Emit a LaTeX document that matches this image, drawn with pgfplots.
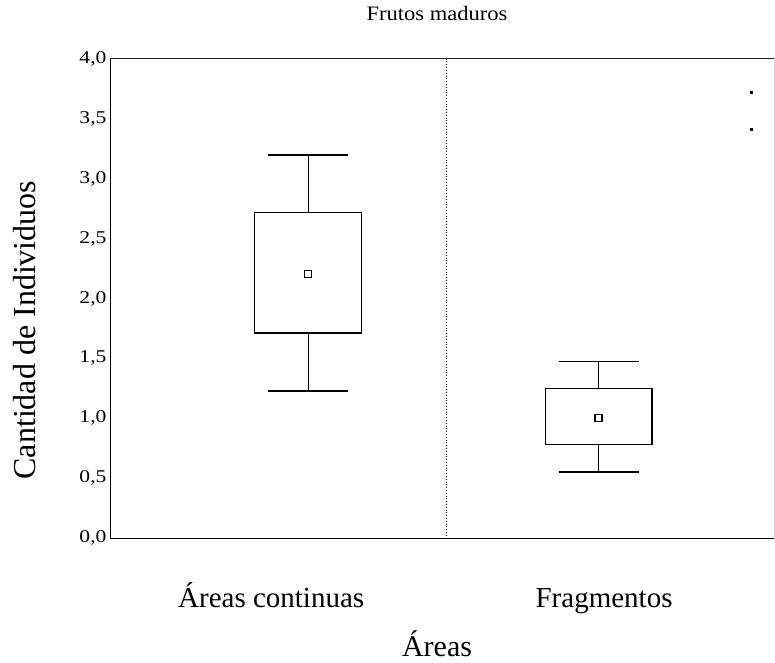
\documentclass[border=0pt]{standalone}
\usepackage{fontspec}
\setmainfont{Liberation Serif}
\usepackage{pgfplots}
\pgfplotsset{compat=1.18}
\usepgfplotslibrary{statistics}
\begin{document}
\begin{tikzpicture}
\path[use as bounding box] (0,0) rectangle (775pt,662pt);
\begin{axis}[
  at={(110pt,123.7pt)}, anchor=south west,
  scale only axis, width=664pt, height=479.8pt,
  xmin=-0.682, xmax=1.604, ymin=0, ymax=4,
  axis x line=bottom, axis y line=left,
  axis line style={-, black, line width=1pt},
  major tick length=0pt,
  xtick={-0.127,1.019},
  xticklabels={Áreas continuas, Fragmentos},
  xticklabel style={anchor=base, yshift=-69.4pt, font=\fontsize{29}{33}\selectfont},
  ytick={0,0.5,1,1.5,2,2.5,3,3.5,4},
  yticklabel={\scalebox{1.2}[1]{\pgfmathprintnumber{\tick}}},
  yticklabel style={font=\fontsize{18}{21}\selectfont},
  /pgf/number format/.cd, fixed, fixed zerofill, precision=1, use comma, assume math mode=true,
  /pgfplots/.cd,
  title={\scalebox{1.1}[1]{Frutos maduros}},
  title style={at={(axis description cs:0.4925,1.0677)}, anchor=base, font=\fontsize{20.5}{24}\selectfont},
  xlabel={Áreas},
  xlabel style={at={(axis description cs:0.4925,-0.2468)}, anchor=base, font=\fontsize{30}{34}\selectfont},
  ylabel={Cantidad de Individuos},
  ylabel style={at={(axis description cs:-0.128,0.434)}, anchor=center, rotate=0, font=\fontsize{32}{36}\selectfont},
  clip=false,
]
\draw[black!85, line width=1.4pt] (rel axis cs:0,1) -- (rel axis cs:1,1);
\draw[gray!35, line width=0.7pt] (rel axis cs:1,0) -- (rel axis cs:1,1);
\draw[dotted, line width=0.8pt] (axis cs:0.476,0) -- (axis cs:0.476,4);
\addplot[black, line width=1.2pt, boxplot/draw direction=y, boxplot prepared={draw position=0,
  lower whisker=1.228, lower quartile=1.712, median=1.712,
  upper quartile=2.714, upper whisker=3.196,
  box extend=0.368, whisker extend=0.275}] coordinates {};
\addplot[black, line width=1.2pt, boxplot/draw direction=y, boxplot prepared={draw position=1,
  lower whisker=0.553, lower quartile=0.780, median=0.780,
  upper quartile=1.246, upper whisker=1.471,
  box extend=0.368, whisker extend=0.275}] coordinates {};
\addplot[only marks, mark=square, mark size=3.5pt, black, line width=1.3pt] coordinates {(0,2.203) (1,1.005)};
\addplot[only marks, mark=square*, mark size=1pt, black] coordinates {(1.527,3.715) (1.527,3.412)};
\end{axis}
\end{tikzpicture}
\end{document}
